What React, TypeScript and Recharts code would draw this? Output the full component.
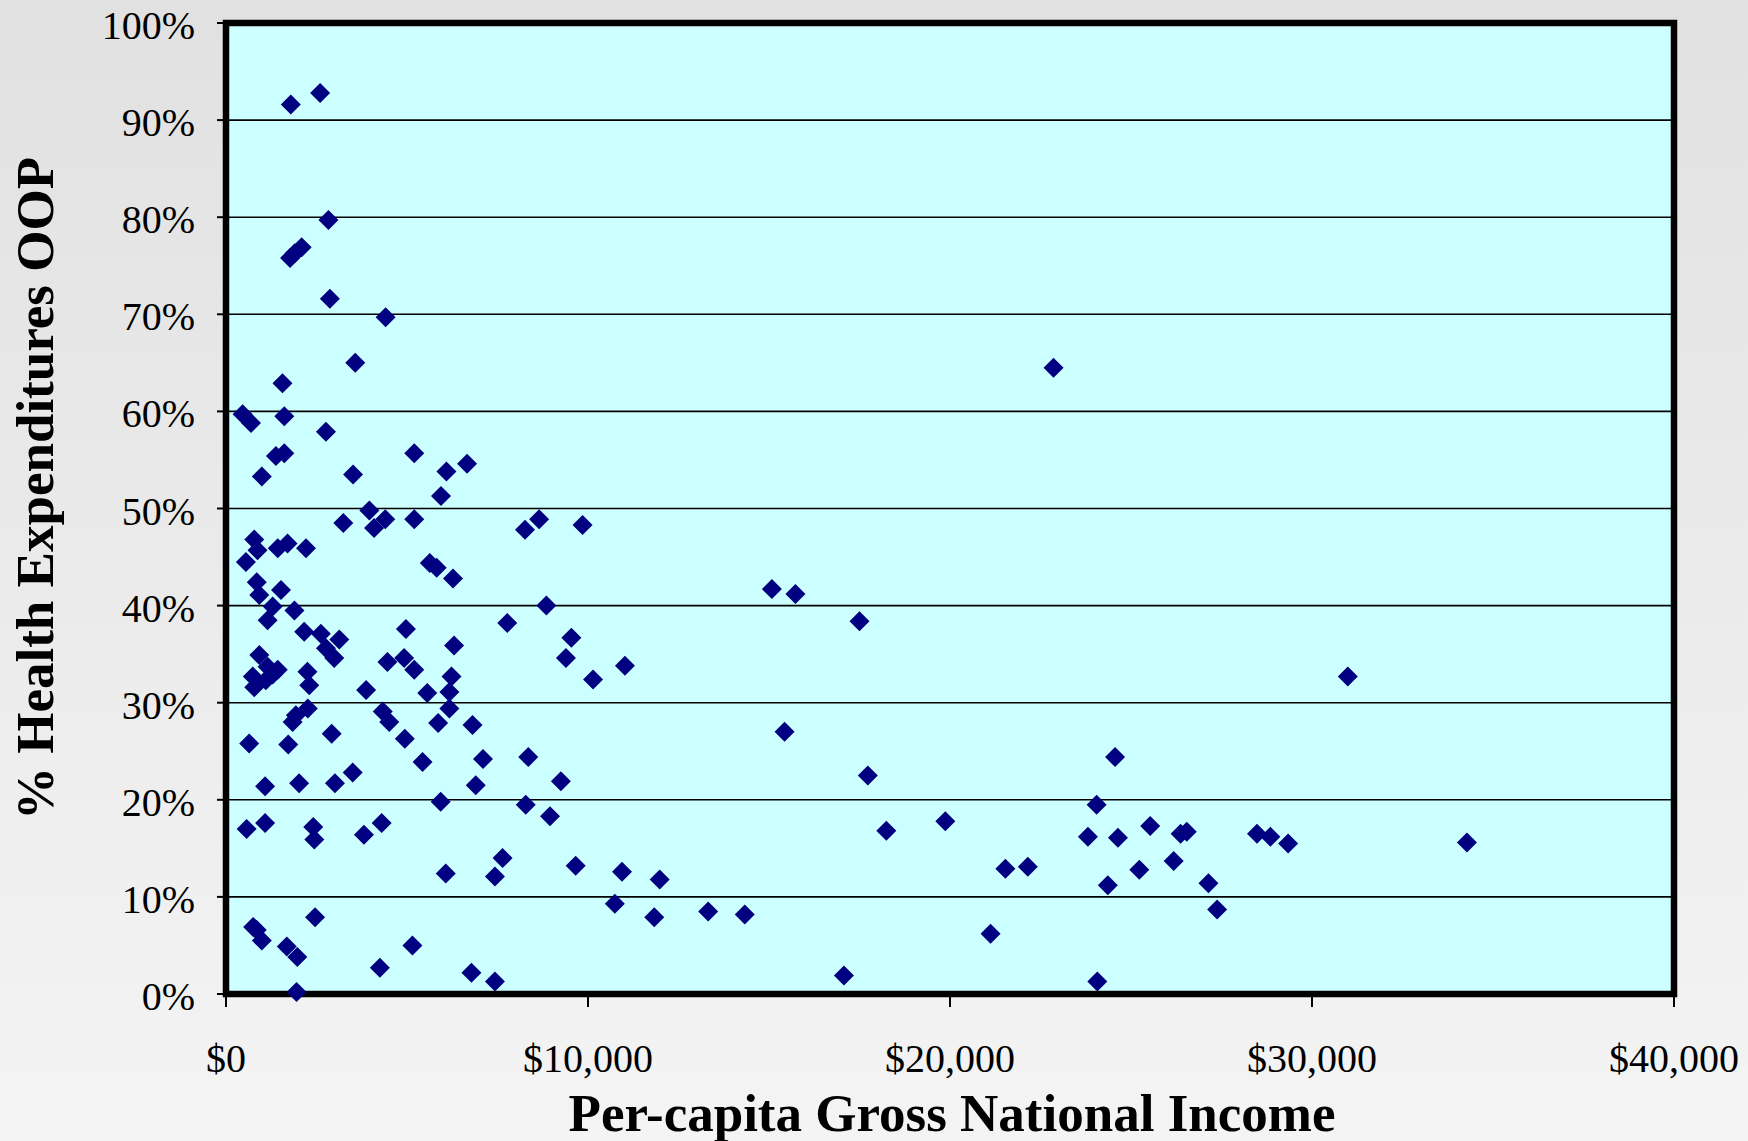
import React from 'react';
import {
  ScatterChart,
  Scatter,
  XAxis,
  YAxis,
  CartesianGrid,
  ReferenceArea,
  Label,
} from 'recharts';

// Per-capita Gross National Income (US$)
const gniPerCapita: number[] = [
  1790, 2600, 2830, 1770, 1900, 2090, 2870, 4410, 3570, 22860,
  1560, 460, 690, 1610, 2760, 1380, 1610, 5200, 990, 3510,
  6090, 6660, 5940, 3960, 3240, 4090, 4400, 5200, 8260, 8650,
  9850, 780, 870, 550, 1430, 1700, 2210, 850, 920, 1520,
  1290, 1150, 1890, 5630, 5820, 6270, 15080, 15730, 17500, 7770,
  8850, 9540, 9390, 10140, 11020, 2160, 2620, 3130, 2760, 2990,
  4970, 6300, 920, 740, 780, 1150, 1430, 1100, 1290, 2250,
  2300, 4460, 4920, 5200, 3870, 6230, 5560, 6170, 6170, 5860,
  6810, 4940, 1930, 2260, 1840, 4330, 4510, 640, 1720, 2920,
  5430, 7100, 8350, 9250, 1080, 2020, 3010, 3500, 6900, 5930,
  8280, 8950, 570, 1080, 2410, 2440, 3810, 4300, 7640, 7430,
  6070, 9660, 2460, 750, 850, 990, 1680, 1970, 4250, 5150,
  6780, 7430, 1950, 15430, 17730, 18240, 19870, 10940, 11980, 10740,
  11830, 13320, 14330, 17070, 21120, 21530, 22150, 30990, 24560, 24050,
  23810, 24640, 25530, 26370, 26540, 25230, 26180, 24360, 27140, 27380,
  24070, 28480, 28850, 29340, 34280,
];

// % of health expenditures paid out of pocket
const oopPercent: number[] = [
  91.6, 92.8, 79.7, 75.8, 76.3, 76.9, 71.6, 69.7, 65.0, 64.5,
  62.9, 59.7, 58.8, 59.5, 57.9, 55.4, 55.7, 55.7, 53.3, 53.5,
  53.8, 54.6, 51.3, 49.8, 48.5, 48.0, 48.9, 48.9, 47.8, 48.9,
  48.3, 46.8, 45.7, 44.5, 45.9, 46.4, 45.9, 42.4, 41.1, 41.6,
  39.9, 38.5, 39.5, 44.4, 43.9, 42.8, 41.7, 41.2, 38.4, 38.2,
  40.0, 36.7, 34.6, 32.4, 33.8, 37.3, 37.1, 36.5, 35.6, 34.6,
  37.6, 35.9, 34.9, 32.7, 31.6, 33.7, 33.4, 32.3, 32.9, 33.2,
  31.8, 34.2, 34.6, 33.4, 31.3, 32.7, 31.0, 31.1, 29.4, 27.9,
  27.7, 26.3, 28.7, 29.4, 28.0, 29.1, 28.0, 25.8, 25.7, 26.8,
  23.9, 24.2, 24.4, 21.9, 21.4, 21.7, 21.7, 22.8, 21.5, 19.8,
  19.5, 18.3, 17.0, 17.6, 17.2, 15.9, 16.4, 17.6, 14.0, 12.1,
  12.4, 13.2, 7.9, 6.9, 6.6, 5.5, 4.9, 3.8, 2.7, 5.0,
  2.2, 1.3, 0.2, 27.0, 22.5, 16.8, 17.8, 12.6, 11.8, 9.3,
  7.9, 8.5, 8.2, 1.9, 6.2, 12.9, 13.1, 32.7, 24.4, 19.5,
  16.2, 16.1, 17.3, 16.5, 16.7, 12.8, 13.7, 11.2, 11.4, 8.7,
  1.3, 16.5, 16.2, 15.5, 15.6,
];

const xTicks: number[] = [0, 10000, 20000, 30000, 40000];
const yTicks: number[] = [0, 10, 20, 30, 40, 50, 60, 70, 80, 90, 100];

const xTitle = 'Per-capita Gross National Income';
const yTitle = '% Health Expenditures OOP';

const data = gniPerCapita.map((g, i) => ({ gni: g, oop: oopPercent[i] }));

const FONT = '"Liberation Serif", "Times New Roman", serif';

const Diamond = (props: any) => {
  const { cx, cy } = props;
  const r = 10;
  return (
    <polygon
      points={`${cx},${cy - r} ${cx + r},${cy} ${cx},${cy + r} ${cx - r},${cy}`}
      fill="#000080"
    />
  );
};

const YTick = (props: any) => {
  const { x, y, payload } = props;
  return (
    <text x={x} y={y} dy={16} textAnchor="end" fontFamily={FONT} fontSize={40} fill="#000">
      {`${payload.value}%`}
    </text>
  );
};

const XTick = (props: any) => {
  const { x, y, payload } = props;
  return (
    <text x={x} y={y} dy={45} textAnchor="middle" fontFamily={FONT} fontSize={40} fill="#000">
      {`$${Number(payload.value).toLocaleString('en-US')}`}
    </text>
  );
};

const XTitle = (props: any) => {
  const vb = props.viewBox || {};
  return (
    <text
      x={vb.x + vb.width / 2 + 2}
      y={vb.y + 137}
      textAnchor="middle"
      fontFamily={FONT}
      fontWeight="bold"
      fontSize={53}
      fill="#000"
    >
      {xTitle}
    </text>
  );
};

const YTitle = (props: any) => {
  const vb = props.viewBox || {};
  const cx = 53;
  const cy = vb.y + vb.height / 2 - 20;
  return (
    <text
      x={cx}
      y={cy}
      transform={`rotate(-90, ${cx}, ${cy})`}
      textAnchor="middle"
      fontFamily={FONT}
      fontWeight="bold"
      fontSize={53}
      fill="#000"
    >
      {yTitle}
    </text>
  );
};

export default function App() {
  return (
    <div
      style={{
        position: 'absolute',
        left: 0,
        top: 0,
        width: 1748,
        height: 1141,
        background: 'linear-gradient(to bottom, #e1e1e1, #f4f4f4)',
      }}
    >
      <ScatterChart
        width={1748}
        height={1141}
        margin={{ top: 23, right: 74, bottom: 0, left: 0 }}
      >
        <CartesianGrid
          vertical={false}
          stroke="#000"
          strokeWidth={1.6}
          fill="#CCFFFF"
          fillOpacity={1}
        />
        <XAxis
          type="number"
          dataKey="gni"
          domain={[0, 40000]}
          ticks={xTicks}
          interval={0}
          height={147}
          axisLine={false}
          tickLine={{ stroke: '#000', strokeWidth: 2 }}
          tickSize={13}
          tickMargin={20}
          tick={<XTick />}
        >
          <Label content={<XTitle />} />
        </XAxis>
        <YAxis
          type="number"
          dataKey="oop"
          domain={[0, 100]}
          ticks={yTicks}
          interval={0}
          width={226}
          axisLine={false}
          tickLine={{ stroke: '#000', strokeWidth: 2 }}
          tickSize={9}
          tickMargin={22}
          tick={<YTick />}
        >
          <Label content={<YTitle />} />
        </YAxis>
        <ReferenceArea
          x1={0}
          x2={40000}
          y1={0}
          y2={100}
          fill="none"
          fillOpacity={0}
          stroke="#000"
          strokeWidth={6.5}
          ifOverflow="visible"
        />
        <Scatter data={data} shape={<Diamond />} isAnimationActive={false} />
      </ScatterChart>
    </div>
  );
}
